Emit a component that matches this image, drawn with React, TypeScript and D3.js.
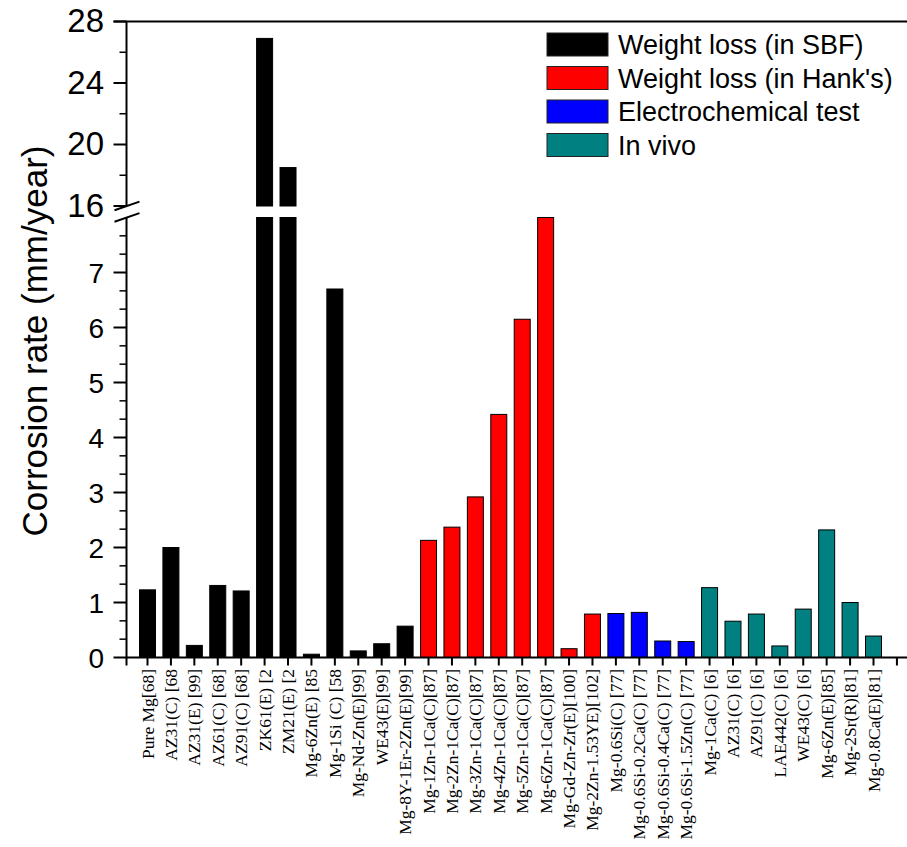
import React from "react";
import * as d3 from "d3";

// Corrosion rates (mm/year) grouped by test method
const sbfLabels = [
  "Pure Mg[68]", "AZ31(C) [68", "AZ31(E) [99]", "AZ61(C) [68]", "AZ91(C) [68]",
  "ZK61(E) [2", "ZM21(E) [2", "Mg-6Zn(E) [85", "Mg-1Si (C) [58", "Mg-Nd-Zn(E)[99]",
  "WE43(E)[99]", "Mg-8Y-1Er-2Zn(E)[99]",
];
const sbfValues = [1.23, 2.0, 0.22, 1.31, 1.21, 26.9, 18.5, 0.06, 6.7, 0.12, 0.25, 0.57];

const hankLabels = [
  "Mg-1Zn-1Ca(C)[87]", "Mg-2Zn-1Ca(C)[87]", "Mg-3Zn-1Ca(C)[87]", "Mg-4Zn-1Ca(C)[87]",
  "Mg-5Zn-1Ca(C)[87]", "Mg-6Zn-1Ca(C)[87]", "Mg-Gd-Zn-Zr(E)[100]", "Mg-2Zn-1.53YE)[102]",
];
const hankValues = [2.13, 2.37, 2.92, 4.42, 6.15, 8.0, 0.16, 0.79];

const echemLabels = [
  "Mg-0.6Si(C) [77]", "Mg-0.6Si-0.2Ca(C) [77]", "Mg-0.6Si-0.4Ca(C) [77]", "Mg-0.6Si-1.5Zn(C) [77]",
];
const echemValues = [0.8, 0.82, 0.3, 0.29];

const vivoLabels = [
  "Mg-1Ca(C) [6]", "AZ31(C) [6]", "AZ91(C) [6]", "LAE442(C) [6]", "WE43(C) [6]",
  "Mg-6Zn(E)[85]", "Mg-2Sr(R)[81]", "Mg-0.8Ca(E)[81]",
];
const vivoValues = [1.27, 0.66, 0.79, 0.21, 0.88, 2.32, 1.0, 0.39];

const seriesNames = ["Weight loss (in SBF)", "Weight loss (in Hank's)", "Electrochemical test", "In vivo"];
const seriesColors = ["#000000", "#ff0000", "#0000ff", "#008080"];

const lowTicks = [0, 1, 2, 3, 4, 5, 6, 7];
const highTicks = [16, 20, 24, 28];

type Bar = { label: string; value: number; series: number };
const bars: Bar[] = [
  ...sbfLabels.map((l, i) => ({ label: l, value: sbfValues[i], series: 0 })),
  ...hankLabels.map((l, i) => ({ label: l, value: hankValues[i], series: 1 })),
  ...echemLabels.map((l, i) => ({ label: l, value: echemValues[i], series: 2 })),
  ...vivoLabels.map((l, i) => ({ label: l, value: vivoValues[i], series: 3 })),
];

const W = 907;
const H = 847;
const axisX = 126.5;
const sans = "'Liberation Sans', Arial, sans-serif";
const serif = "'Liberation Serif', 'Times New Roman', serif";

export default function App() {
  const x = d3.scaleLinear().domain([0, 31]).range([147.5, 873.5]);
  const yLow = d3.scaleLinear().domain([0, 8]).range([657.5, 217.5]);
  const yHigh = d3.scaleLinear().domain([16, 28]).range([206, 21.5]);
  const barW = 16;

  const lowMinor = d3.range(0, 24).map((k) => k / 3).filter((v) => Math.abs(v - Math.round(v)) > 1e-6);
  const highMinor = [18, 22, 26];
  const xTicks = d3.range(0, 33);

  const breakLine = (yc: number) => `M${axisX - 12},${yc + 4.2} L${axisX + 13},${yc - 4.4}`;

  return (
    <svg width={W} height={H} style={{ position: "absolute", left: 0, top: 0, background: "#fff" }}>
      <rect width={W} height={H} fill="#fff" />

      {/* bars */}
      {bars.map((b, i) => {
        const cx = x(i);
        const low = Math.min(b.value, 8);
        return (
          <g key={i} fill={seriesColors[b.series]} stroke="#000" strokeWidth={1}>
            <rect x={cx - barW / 2} y={yLow(low)} width={barW} height={yLow(0) - yLow(low)} />
            {b.value > 16 && (
              <rect x={cx - barW / 2} y={yHigh(b.value)} width={barW} height={yHigh(16) - yHigh(b.value)} />
            )}
          </g>
        );
      })}

      {/* frame: top line and x axis */}
      <line x1={axisX - 13} x2={W} y1={yHigh(28)} y2={yHigh(28)} stroke="#000" strokeWidth={2} />
      <line x1={axisX} x2={W} y1={yLow(0)} y2={yLow(0)} stroke="#000" strokeWidth={2} />
      <line x1={axisX} x2={axisX} y1={yLow(0)} y2={yLow(0) + 8} stroke="#000" strokeWidth={2} />
      {xTicks.map((i) => (
        <line key={i} x1={x(i)} x2={x(i)} y1={yLow(0)} y2={yLow(0) + 8} stroke="#000" strokeWidth={2} />
      ))}

      {/* y axis, lower segment */}
      <line x1={axisX} x2={axisX} y1={yLow(0) + 1} y2={yLow(8)} stroke="#000" strokeWidth={2} />
      {lowTicks.map((t) => (
        <g key={t}>
          <line x1={axisX - 13} x2={axisX} y1={yLow(t)} y2={yLow(t)} stroke="#000" strokeWidth={2} />
          <text x={104} y={yLow(t)} dy="0.36em" textAnchor="end" fontFamily={sans} fontSize={28}>
            {t}
          </text>
        </g>
      ))}
      {lowMinor.map((t) => (
        <line key={t} x1={axisX - 7} x2={axisX} y1={yLow(t)} y2={yLow(t)} stroke="#000" strokeWidth={1.5} />
      ))}

      {/* y axis, upper segment */}
      <line x1={axisX} x2={axisX} y1={yHigh(28)} y2={yHigh(16)} stroke="#000" strokeWidth={2} />
      {highTicks.map((t) => (
        <g key={t}>
          <line x1={axisX - 13} x2={axisX} y1={yHigh(t)} y2={yHigh(t)} stroke="#000" strokeWidth={2} />
          <text x={104} y={yHigh(t)} dy="0.33em" textAnchor="end" fontFamily={sans} fontSize={33}>
            {t}
          </text>
        </g>
      ))}
      {highMinor.map((t) => (
        <line key={t} x1={axisX - 7} x2={axisX} y1={yHigh(t)} y2={yHigh(t)} stroke="#000" strokeWidth={1.5} />
      ))}

      {/* axis break marks */}
      <path d={breakLine(yHigh(16))} stroke="#000" strokeWidth={2} />
      <path d={breakLine(yLow(8))} stroke="#000" strokeWidth={2} />

      {/* y axis title */}
      <text
        transform={`translate(47,341) rotate(-90)`}
        textAnchor="middle"
        fontFamily={sans}
        fontSize={35}
      >
        Corrosion rate (mm/year)
      </text>

      {/* category labels */}
      {bars.map((b, i) => (
        <text
          key={i}
          transform={`translate(${x(i) + 6},669) rotate(-90)`}
          textAnchor="end"
          fontFamily={serif}
          fontSize={17.5}
        >
          {b.label}
        </text>
      ))}

      {/* legend */}
      {seriesNames.map((name, k) => {
        const top = 33 + k * 33.5;
        return (
          <g key={name}>
            <rect x={547} y={top} width={61} height={23} fill={seriesColors[k]} stroke="#222" strokeWidth={1} />
            <text x={618} y={top + 21} fontFamily={sans} fontSize={27}>
              {name}
            </text>
          </g>
        );
      })}
    </svg>
  );
}
